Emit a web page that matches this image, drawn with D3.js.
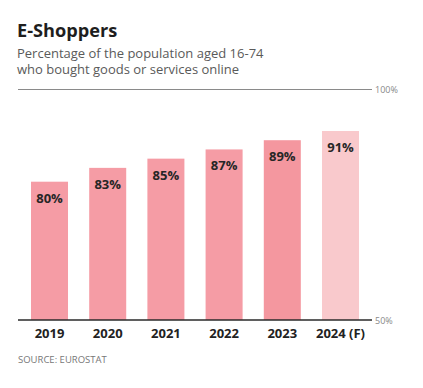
<!DOCTYPE html>
<html>
<head>
<script src="https://d3js.org/d3.v7.min.js"></script>
<style>
  body { margin: 0; background: #fff; }
  text { font-family: "Open Sans", sans-serif; }
</style>
</head>
<body>
<div id="chart"></div>
<script>
var years = ["2019", "2020", "2021", "2022", "2023", "2024 (F)"];
var shares = [80, 83, 85, 87, 89, 91];
var forecast = [false, false, false, false, false, true];
var yTicks = [50, 100];

var w = 423, h = 388;
var svg = d3.select("#chart").append("svg")
    .attr("width", w)
    .attr("height", h);

var x = d3.scaleBand()
    .domain(years)
    .range([31, 359])
    .paddingInner(0.364)
    .paddingOuter(0);

var y = d3.scaleLinear()
    .domain([50, 100])
    .range([320, 89.5]);

// title block
svg.append("text")
    .attr("x", 17).attr("y", 37)
    .style("font-size", "18.2px")
    .style("font-weight", 700)
    .attr("fill", "#1e1e1e")
    .text("E-Shoppers");

// subtitle as one text block, two lines
var sub = ["Percentage of the population aged 16-74", "who bought goods or services online"];
svg.append("text")
    .attr("class", "sub")
    .attr("y", 57.5)
    .style("font-size", "13px")
    .attr("fill", "#5a5a5a")
    .selectAll("tspan")
    .data(sub)
    .enter().append("tspan")
    .attr("x", 17)
    .attr("dy", function(d, i) { return i ? 16 : 0; })
    .text(function(d) { return d; });

// bars
svg.selectAll(".bar")
    .data(years)
    .enter().append("rect")
    .attr("class", "bar")
    .attr("x", function(d) { return x(d); })
    .attr("y", function(d, i) { return y(shares[i]); })
    .attr("width", x.bandwidth())
    .attr("height", function(d, i) { return y(50) - y(shares[i]); })
    .attr("fill", function(d, i) { return forecast[i] ? "#f9c9cc" : (i == 4 ? "#f4979f" : "#f59ca5"); });

svg.selectAll(".val")
    .data(years)
    .enter().append("text")
    .attr("class", "val")
    .attr("x", function(d) { return x(d) + x.bandwidth() / 2; })
    .attr("y", function(d, i) { return y(shares[i]) + 21; })
    .attr("text-anchor", "middle")
    .style("font-size", "13px")
    .style("font-weight", 700)
    .attr("fill", "#262626")
    .text(function(d, i) { return shares[i] + "%"; });

// gridlines for 100% and 50%
svg.selectAll(".grid")
    .data(yTicks)
    .enter().append("line")
    .attr("class", "grid")
    .attr("x1", 18).attr("x2", 372)
    .attr("y1", function(d) { return y(d); })
    .attr("y2", function(d) { return y(d); })
    .attr("stroke", function(d) { return d == 50 ? "#2a2a2a" : "#8a8a8a"; })
    .attr("stroke-width", function(d) { return d == 50 ? 1.3 : 1; });

svg.selectAll(".tick")
    .data(yTicks)
    .enter().append("text")
    .attr("class", "tick")
    .attr("x", 375)
    .attr("y", function(d) { return y(d) + 3.5; })
    .style("font-size", "9px")
    .attr("fill", "#888")
    .text(function(d) { return d + "%"; });

// year labels
svg.selectAll(".year")
    .data(years)
    .enter().append("text")
    .attr("class", "year")
    .attr("x", function(d) { return x(d) + x.bandwidth() / 2; })
    .attr("y", 337.5)
    .attr("text-anchor", "middle")
    .style("font-size", "13px")
    .style("font-weight", 700)
    .attr("fill", "#222")
    .text(function(d) { return d; });

svg.append("text")
    .attr("x", 18).attr("y", 363)
    .style("font-size", "9.5px")
    .attr("fill", "#777")
    .text("SOURCE: EUROSTAT");
</script>
</body>
</html>
